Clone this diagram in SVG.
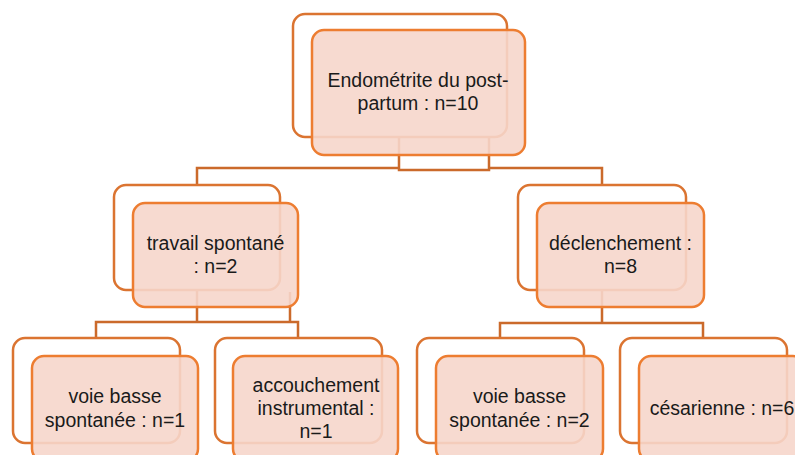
<svg xmlns="http://www.w3.org/2000/svg" width="795" height="455" viewBox="0 0 795 455">
<style>
.back{fill:#FFFFFF;stroke:#DB7431;stroke-width:2.5}
.front{fill:#F6D6CB;fill-opacity:0.9;stroke:#ED7D31;stroke-width:2.5}
.conn{fill:none;stroke:#CB6A2B;stroke-width:2.5}
text{font-family:"Liberation Sans",Arial,sans-serif;font-size:19.5px;fill:#1A1A1A;text-anchor:middle}
</style>
<rect width="795" height="455" fill="#FFFFFF"/>
<g id="connectors">
<path class="conn" d="M197,185 V168 H399 M399,137 V170 H489 V137 M489,168 H602 V185"/>
<path class="conn" d="M96,338 V322 H197 M197,290 V322 H290 M290,292 V322 H298 V338"/>
<path class="conn" d="M602,290 V323 M500,338 V323 H703 V338"/>
</g>
<g id="node-root">
<rect class="back" x="293" y="14" width="214" height="123" rx="12"/>
<rect class="front" x="312" y="30" width="213" height="125" rx="12"/>
<text x="418" y="87">Endométrite du post-</text>
<text x="418" y="110">partum : n=10</text>
</g>
<g id="node-travail">
<rect class="back" x="114" y="185" width="166" height="105" rx="12"/>
<rect class="front" x="133" y="203" width="165" height="104" rx="12"/>
<text x="215.5" y="250">travail spontané</text>
<text x="215.5" y="273">: n=2</text>
</g>
<g id="node-declenchement">
<rect class="back" x="518" y="185" width="168" height="105" rx="12"/>
<rect class="front" x="537" y="203" width="167" height="104" rx="12"/>
<text x="620.5" y="250">déclenchement :</text>
<text x="620.5" y="273">n=8</text>
</g>
<g id="node-vbs1">
<rect class="back" x="13" y="338" width="167" height="105" rx="12"/>
<rect class="front" x="32" y="356" width="166" height="105" rx="12"/>
<text x="115" y="403">voie basse</text>
<text x="115" y="427">spontanée : n=1</text>
</g>
<g id="node-instrumental">
<rect class="back" x="215" y="338" width="167" height="105" rx="12"/>
<rect class="front" x="233" y="356" width="165" height="105" rx="12"/>
<text x="316" y="392">accouchement</text>
<text x="316" y="415">instrumental :</text>
<text x="316" y="438">n=1</text>
</g>
<g id="node-vbs2">
<rect class="back" x="417" y="338" width="167" height="105" rx="12"/>
<rect class="front" x="436" y="356" width="167" height="105" rx="12"/>
<text x="519.5" y="403">voie basse</text>
<text x="519.5" y="427">spontanée : n=2</text>
</g>
<g id="node-cesarienne">
<rect class="back" x="620" y="338" width="167" height="105" rx="12"/>
<rect class="front" x="639" y="356" width="166" height="105" rx="12"/>
<text x="722" y="415">césarienne : n=6</text>
</g>
</svg>
